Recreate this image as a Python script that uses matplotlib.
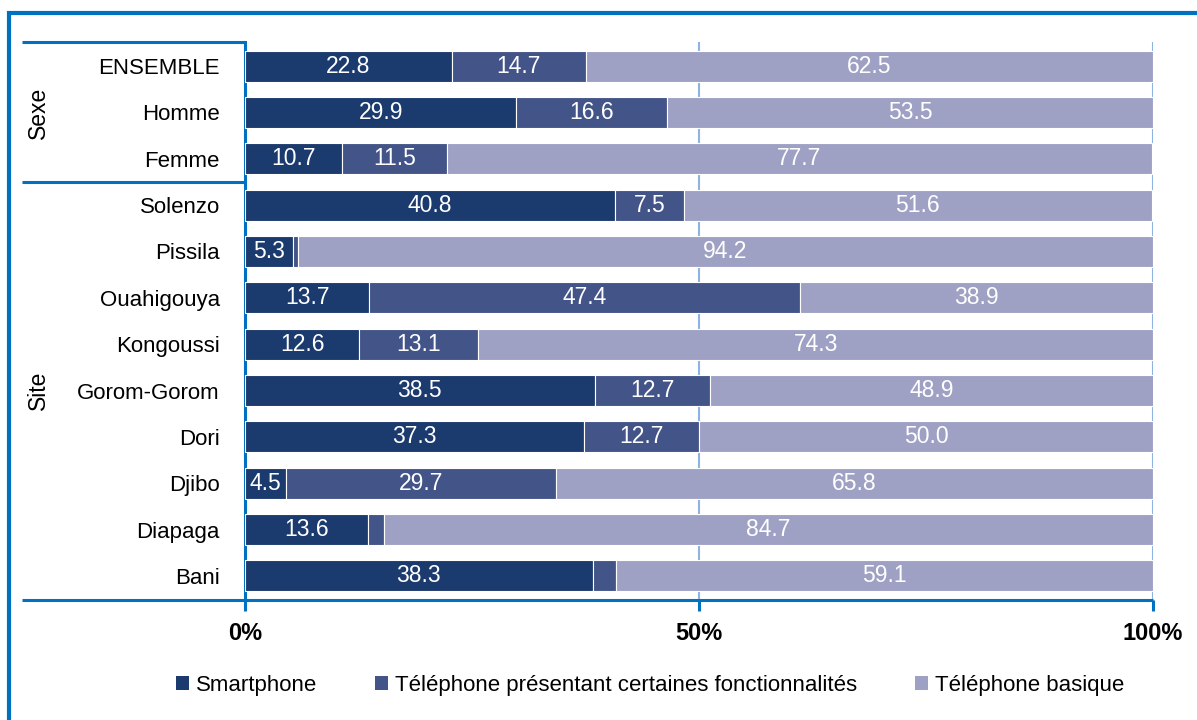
import matplotlib
matplotlib.use("Agg")
import matplotlib.pyplot as plt
from matplotlib.lines import Line2D
from matplotlib.patches import Rectangle, Patch
import matplotlib.transforms as mtransforms
import numpy as np

categories = ["ENSEMBLE", "Homme", "Femme", "Solenzo", "Pissila", "Ouahigouya",
              "Kongoussi", "Gorom-Gorom", "Dori", "Djibo", "Diapaga", "Bani"]
smartphone = [22.8, 29.9, 10.7, 40.8, 5.3, 13.7, 12.6, 38.5, 37.3, 4.5, 13.6, 38.3]
fonctionnalites = [14.7, 16.6, 11.5, 7.5, 0.5, 47.4, 13.1, 12.7, 12.7, 29.7, 1.7, 2.6]
basique = [62.5, 53.5, 77.7, 51.6, 94.2, 38.9, 74.3, 48.9, 50.0, 65.8, 84.7, 59.1]
series_names = ["Smartphone", "Téléphone présentant certaines fonctionnalités", "Téléphone basique"]
groups = [("Sexe", 0, 2), ("Site", 3, 11)]
xticks = [0, 50, 100]
xticklabels = ["0%", "50%", "100%"]

colors = ["#1B3A6E", "#435488", "#9FA1C4"]
BLUE = "#0070C0"
GRID = "#8DB3E2"
FONT = ["Liberation Sans", "DejaVu Sans"]
plt.rcParams["font.family"] = FONT

W, H = 1197, 720
fig = plt.figure(figsize=(W / 100, H / 100), dpi=100)
L, R, T, B = 245, 1153, 42, 600
ax = fig.add_axes([L / W, 1 - B / H, (R - L) / W, (B - T) / H])

n = len(categories)
y = np.arange(n)
left = np.zeros(n)
for vals, col, name in zip([smartphone, fonctionnalites, basique], colors, series_names):
    vals = np.array(vals)
    ax.barh(y, vals, left=left, height=0.67, color=col, edgecolor="white",
            linewidth=0.8, label=name, zorder=3)
    for yi, (l, v) in enumerate(zip(left, vals)):
        if v >= 3:
            ax.text(l + v / 2, yi, f"{v:.1f}", ha="center", va="center",
                    color="white", fontsize=16.5, zorder=4)
    left = left + vals

ax.set_xlim(0, 100)
ax.set_ylim(n - 0.48, -0.52)
ax.set_yticks(y)
ax.set_yticklabels(categories, fontsize=16)
ax.tick_params(axis="y", length=0, pad=18)
ax.set_xticks(xticks)
ax.set_xticklabels(xticklabels, fontsize=17, fontweight="bold")
ax.tick_params(axis="x", direction="out", length=8, width=2.2, color=BLUE, pad=8)
for s in ["top", "right"]:
    ax.spines[s].set_visible(False)
ax.spines["left"].set_color(BLUE)
ax.spines["left"].set_linewidth(2.2)
ax.spines["bottom"].set_visible(False)
for xv in [50, 100]:
    ax.axvline(xv, color=GRID, linewidth=1.5, zorder=1)

# group separator lines and bottom axis line
bt = mtransforms.blended_transform_factory(fig.transFigure, ax.transData)
x0 = 22 / W
xr = R / W
for yy, x1 in [(-0.52, L / W), (2.5, L / W), (n - 0.48, xr)]:
    fig.add_artist(Line2D([x0, x1], [yy, yy], transform=bt, color=BLUE,
                          linewidth=2.2, solid_capstyle="butt"))
for name, a, b in groups:
    fig.text(38 / W, (a + b) / 2, name, transform=bt, rotation=90,
             ha="center", va="center", fontsize=16.5)

# outer frame
fig.add_artist(Rectangle((9 / W, -0.1), 1.2, 1 - 13 / H + 0.1, transform=fig.transFigure,
                         fill=False, edgecolor=BLUE, linewidth=3))

handles = [Patch(facecolor=c, edgecolor="none") for c in colors]
fig.legend(handles, series_names, loc="center", bbox_to_anchor=(650 / W, 1 - 685 / H),
           ncol=3, frameon=False, fontsize=16, handlelength=0.6, handleheight=0.6,
           handletextpad=0.3, columnspacing=2.6)

fig.savefig("out.png", dpi=100)
